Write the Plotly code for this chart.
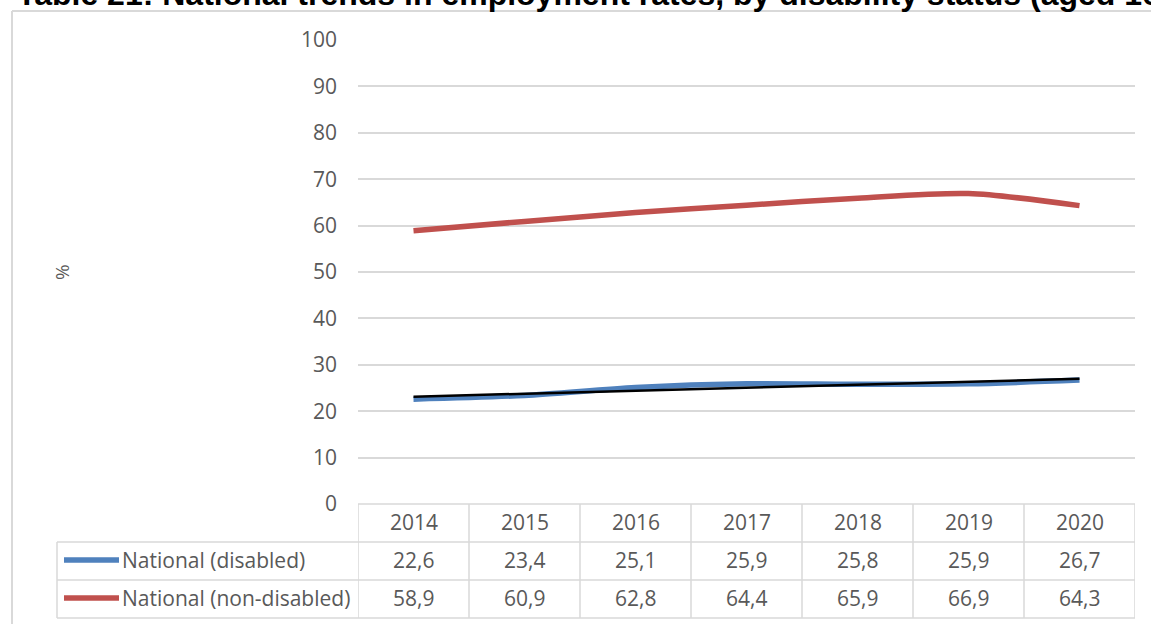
import numpy as np
import plotly.graph_objects as go

# ---- data ----
years = ["2014", "2015", "2016", "2017", "2018", "2019", "2020"]
disabled = [22.6, 23.4, 25.1, 25.9, 25.8, 25.9, 26.7]
non_disabled = [58.9, 60.9, 62.8, 64.4, 65.9, 66.9, 64.3]
series_names = ["National (disabled)", "National (non-disabled)"]
title_text = "Table 21: National trends in employment rates, by disability status (aged 16-64)"
y_ticks = list(range(0, 101, 10))

# linear trend line of disabled series (Excel-style trendline)
idx = np.arange(len(years))
slope, intercept = np.polyfit(idx, disabled, 1)
trend = list(intercept + slope * idx)

BLUE = "#4f81bd"
RED = "#c0504d"
GRID = "#d9d9d9"
TXT = "#595959"
FONT = "Open Sans"
FS = 21

W, H = 1151, 624
L, R, T, B = 358, 16, 40, 120
PW = W - L - R
PH = H - T - B


def px_x(px):
    return (px - L) / PW


def px_y(py):
    return (H - B - py) / PH


fig = go.Figure()
fig.add_trace(go.Scatter(x=idx, y=non_disabled, mode="lines", name=series_names[1],
                         line=dict(color=RED, width=5.5, shape="spline", smoothing=0.8)))
fig.add_trace(go.Scatter(x=idx, y=disabled, mode="lines", name=series_names[0],
                         line=dict(color=BLUE, width=5.5, shape="spline", smoothing=0.8)))
fig.add_trace(go.Scatter(x=idx, y=trend, mode="lines", name="Linear trend",
                         line=dict(color="black", width=2.5)))

shapes = []
ann = []
line_style = dict(color=GRID, width=1.5)

# outer chart border (left and top)
shapes.append(dict(type="line", xref="paper", yref="paper", x0=px_x(12), x1=px_x(1160),
                   y0=px_y(11), y1=px_y(11), line=dict(color=GRID, width=2)))
shapes.append(dict(type="line", xref="paper", yref="paper", x0=px_x(12), x1=px_x(12),
                   y0=px_y(11), y1=px_y(640), line=dict(color=GRID, width=2)))

# data table grid
row_tops = [504, 542, 580, 618]
x_right = len(years) - 0.5
shapes.append(dict(type="line", xref="x", yref="paper", x0=-0.5, x1=x_right,
                   y0=px_y(row_tops[0]), y1=px_y(row_tops[0]), line=line_style))
for ry in row_tops[1:]:
    shapes.append(dict(type="line", xref="paper", yref="paper", x0=px_x(57), x1=1,
                       y0=px_y(ry), y1=px_y(ry), line=line_style))
for i in range(len(years) + 1):
    shapes.append(dict(type="line", xref="x", yref="paper", x0=i - 0.5, x1=i - 0.5,
                       y0=px_y(row_tops[0]), y1=px_y(row_tops[-1]), line=line_style))
shapes.append(dict(type="line", xref="paper", yref="paper", x0=px_x(57), x1=px_x(57),
                   y0=px_y(row_tops[1]), y1=px_y(row_tops[-1]), line=line_style))

# header years
for i, yr in enumerate(years):
    ann.append(dict(x=i, xref="x", y=px_y(522), yref="paper", text=yr, showarrow=False,
                    font=dict(family=FONT, size=FS, color=TXT), xanchor="center", yanchor="middle"))

# rows
rows = [(series_names[0], disabled, BLUE, 560), (series_names[1], non_disabled, RED, 598)]
for name, vals, col, cy in rows:
    shapes.append(dict(type="line", xref="paper", yref="paper", x0=px_x(64), x1=px_x(119),
                       y0=px_y(cy), y1=px_y(cy), line=dict(color=col, width=5.5)))
    ann.append(dict(x=px_x(120), xref="paper", y=px_y(cy), yref="paper", text=name,
                    showarrow=False, font=dict(family=FONT, size=FS, color=TXT),
                    xanchor="left", yanchor="middle"))
    for i, v in enumerate(vals):
        ann.append(dict(x=i, xref="x", y=px_y(cy), yref="paper",
                        text=f"{v:.1f}".replace(".", ","), showarrow=False,
                        font=dict(family=FONT, size=FS, color=TXT),
                        xanchor="center", yanchor="middle"))

# y axis title
ann.append(dict(x=px_x(62), xref="paper", y=px_y(272), yref="paper", text="%",
                textangle=-90, showarrow=False, font=dict(family=FONT, size=19, color=TXT),
                xanchor="center", yanchor="middle"))

# cut-off title
ann.append(dict(x=px_x(15), xref="paper", y=px_y(-5.5), yref="paper",
                text="<b>" + title_text + "</b>",
                showarrow=False, font=dict(family="Liberation Sans", size=32, color="black"),
                xanchor="left", yanchor="middle"))

fig.update_layout(
    width=W, height=H,
    margin=dict(l=L, r=R, t=T, b=B, pad=0),
    paper_bgcolor="white", plot_bgcolor="white",
    showlegend=False,
    shapes=shapes, annotations=ann,
    xaxis=dict(range=[-0.5, len(years) - 0.5], showticklabels=False,
               showgrid=False, zeroline=False, showline=False, ticks=""),
    yaxis=dict(range=[0, 100], tickvals=y_ticks, showgrid=True, gridcolor=GRID, gridwidth=1.5,
               zeroline=False, showline=False, ticks="",
               tickfont=dict(family=FONT, size=FS, color=TXT), ticklabelstandoff=20),
)

fig.write_html("out.html", config={"displayModeBar": False},
               post_script="document.body.style.margin='0';")
